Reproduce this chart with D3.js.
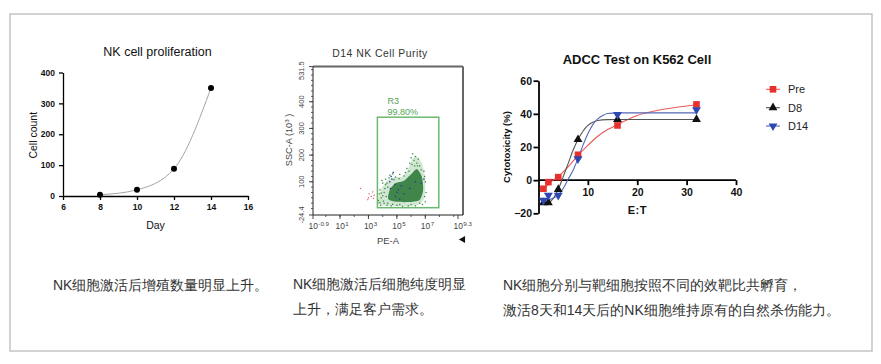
<!DOCTYPE html>
<html><head><meta charset="utf-8">
<script src="https://cdn.jsdelivr.net/npm/d3@7"></script>
<style>
html,body{margin:0;padding:0;background:#fff;}
svg{display:block;}
text{font-family:"Liberation Sans",Arial,sans-serif;}
</style></head><body>
<svg id="c" width="881" height="364"></svg>
<script>
// ---------- DATA ----------
// Chart 1: NK cell proliferation
const prolifDays = [8, 10, 12, 14];
const prolifCounts = [4, 20, 88, 350];
const prolifXTicks = [6, 8, 10, 12, 14, 16];
const prolifYTicks = [0, 100, 200, 300, 400];

// Chart 2: D14 NK Cell Purity (flow cytometry, x = log10 PE-A, y = SSC-A 10^3)
const flowXTicks = [-0.9, 1, 3, 5, 7, 9.3];
const flowXTickExp = ["-0.9", "1", "3", "5", "7", "9.3"];
const flowYTicks = [-24.4, 100, 200, 300, 400, 531.5];
const flowYTickLabels = ["-24.4", "100", "200", "300", "400", "531.5"];
const gateR3 = [3.63, 7.95, 3, 342]; // xmin, xmax, ymin, ymax
const gateName = "R3";
const gatePct = "99.80%";
const cloudHalo = [[3.7,18],[3.75,50],[4.0,82],[4.4,108],[4.9,118],[5.4,120],[5.8,150],[6.1,185],[6.4,195],[6.75,170],[6.95,130],[7.0,80],[6.9,35],[6.5,14],[5.8,8],[4.8,9],[4.1,11]];
const cloudCore = [[4.4,35],[4.5,70],[4.9,95],[5.5,104],[6.0,128],[6.4,148],[6.75,120],[6.85,70],[6.6,32],[5.8,24],[5.0,25]];
const sparseGreen = [[3.7,30],[3.75,55],[3.8,70],[3.9,40],[4.0,95],[4.1,20],[4.1,60],[4.2,110],[4.3,12],[4.35,80],[4.5,125],[4.6,10],[4.7,130],[4.9,118],[5.0,12],[5.2,128],[5.4,8],[5.5,122],[5.7,150],[5.8,10],[5.9,170],[6.0,190],[6.1,205],[6.2,180],[6.3,195],[6.4,170],[6.5,185],[6.6,160],[6.9,140],[7.0,100],[7.05,60],[7.0,25],[6.8,15],[6.3,10],[4.05,28],[3.95,105],[3.65,20],[3.85,12],[4.25,45],[4.3,95],[4.45,115],[4.15,75],[3.9,58],[4.8,108],[5.15,112],[5.6,135],[5.85,140],[6.05,165],[6.25,160],[6.45,160],[6.7,145],[6.95,120],[6.95,45],[6.6,20],[6.0,15],[5.2,15],[4.7,16],[4.35,20],[3.8,22],[4.0,48],[4.2,90]];
const sparseBlue = [[4.5,100],[4.6,120],[4.75,135],[4.55,75],[4.85,90],[5.1,70],[5.3,85],[5.5,55],[5.9,75],[6.3,100],[6.7,95],[6.9,110],[4.9,45],[5.2,35],[4.65,110],[5.0,60]];
const sparseRed = [[2.45,75],[3.05,55],[3.2,45],[3.0,40],[3.3,62],[3.4,50],[2.95,33],[3.35,38]];

// Chart 3: ADCC Test on K562 Cell
const etRatio = [1, 2, 4, 8, 16, 32];
const seriesNames = ["Pre", "D8", "D14"];
const adccPre = [-5.2, -1.2, 1.8, 15.3, 33, 45.7];
const adccD8 = [-13.6, -13.6, -5.6, 24.5, 36.6, 36.6];
const adccD14 = [-12.2, -9.2, -9.2, 12.9, 39.6, 42.5];
const fitPreX = [1,2,3,4,5,6,7,8,10,12,14,16,18,20,24,28,32];
const fitPreY = [-5.5,-2.5,0,2,5,8,11.5,15,21,26.5,30.5,33.5,36.5,39,42,44,45.5];
const fitD8X = [1,2,3,4,5,6,7,8,9,10,11,12,14,16,24,32];
const fitD8Y = [-14,-13.6,-11,-5.5,2,10,18,24.5,29.5,33,35,36,36.5,36.6,36.6,36.6];
const fitD14X = [1,2,3,4,5,6,7,8,9,10,11,12,13,14,16,24,32];
const fitD14Y = [-12.2,-11.8,-10.8,-9,-5,0.5,6,13,21,28,33.5,37,39,40.2,40.6,40.6,40.6];
const adccXTicks = [10, 20, 30, 40];
const adccYTicks = [-20, 0, 20, 40, 60];

// Captions
const caption1 = ["NK细胞激活后增殖数量明显上升。"];
const caption2 = ["NK细胞激活后细胞纯度明显", "上升，满足客户需求。"];
const caption3 = ["NK细胞分别与靶细胞按照不同的效靶比共孵育，", "激活8天和14天后的NK细胞维持原有的自然杀伤能力。"];

// ---------- DRAW ----------
const svg = d3.select("#c");
svg.append("rect").attr("width", 881).attr("height", 364).attr("fill", "#fff");
svg.append("rect").attr("x", 10).attr("y", 14).attr("width", 862).attr("height", 337)
  .attr("fill", "none").attr("stroke", "#c4c4c4").attr("stroke-width", 1.5);

function styleAxis(g, sw, fs, fw, col) {
  g.select(".domain").attr("stroke", col || "#000").attr("stroke-width", sw);
  g.selectAll(".tick line").attr("stroke", col || "#000").attr("stroke-width", sw);
  g.selectAll(".tick text").attr("font-size", fs).attr("font-weight", fw)
    .attr("fill", "#111").attr("font-family", "Liberation Sans, Arial, sans-serif");
}

// ===== Chart 1 =====
{
  const g = svg.append("g");
  const x = d3.scaleLinear().domain([6, 16]).range([63, 248]);
  const y = d3.scaleLinear().domain([0, 400]).range([196, 72.5]);
  const ax = g.append("g").attr("transform", `translate(0,${y(0)})`)
    .call(d3.axisBottom(x).tickValues(prolifXTicks).tickSize(4).tickPadding(4).tickSizeOuter(0));
  styleAxis(ax, 1.3, 8.5, "bold");
  const ay = g.append("g").attr("transform", `translate(${x(6)},0)`)
    .call(d3.axisLeft(y).tickValues(prolifYTicks).tickSize(4).tickPadding(4).tickSizeOuter(0));
  styleAxis(ay, 1.3, 8.5, "bold");
  const pts = prolifDays.map((d, i) => [d, prolifCounts[i]]);
  g.append("path").datum(pts).attr("fill", "none").attr("stroke", "#9a9a9a").attr("stroke-width", 0.9)
    .attr("d", d3.line().x(d => x(d[0])).y(d => y(d[1])).curve(d3.curveMonotoneX));
  g.selectAll("circle").data(pts).join("circle").attr("cx", d => x(d[0])).attr("cy", d => y(d[1]))
    .attr("r", 3).attr("fill", "#000");
  g.append("text").attr("x", (x(6) + x(16)) / 2 + 2).attr("y", 55.5).attr("text-anchor", "middle")
    .attr("font-size", 12.5).attr("fill", "#111").text("NK cell proliferation");
  g.append("text").attr("x", (x(6) + x(16)) / 2).attr("y", 229).attr("text-anchor", "middle")
    .attr("font-size", 10.5).attr("fill", "#111").text("Day");
  g.append("text").attr("transform", `translate(37,${(y(0) + y(400)) / 2 + 1}) rotate(-90)`)
    .attr("text-anchor", "middle").attr("font-size", 10.5).attr("fill", "#111").text("Cell count");
}

// ===== Chart 2 =====
{
  const g = svg.append("g");
  const x = d3.scaleLinear().domain([-0.9, 9.3]).range([313, 458]);
  const y = d3.scaleLinear().domain([-24.4, 531.5]).range([215, 66.6]);
  const right = 463;
  const line = d3.line().x(d => x(d[0])).y(d => y(d[1])).curve(d3.curveCardinalClosed.tension(0.3));
  // cloud
  g.append("path").datum(cloudHalo).attr("d", line).attr("fill", "#6aae6c").attr("opacity", 0.3);
  g.selectAll(".sg").data(sparseGreen).join("rect").attr("class", "sg")
    .attr("x", d => x(d[0]) - 0.6).attr("y", d => y(d[1]) - 0.6).attr("width", 1.3).attr("height", 1.3).attr("fill", "#3d8c45");
  g.append("path").datum(cloudCore).attr("d", line).attr("fill", "#307b3b").attr("opacity", 0.9);
  g.selectAll(".sb").data(sparseBlue).join("rect").attr("class", "sb")
    .attr("x", d => x(d[0]) - 0.7).attr("y", d => y(d[1]) - 0.7).attr("width", 1.4).attr("height", 1.4).attr("fill", "#2b3f9a");
  g.selectAll(".sr").data(sparseRed).join("rect").attr("class", "sr")
    .attr("x", d => x(d[0]) - 0.6).attr("y", d => y(d[1]) - 0.6).attr("width", 1.2).attr("height", 1.2).attr("fill", "#e8556a");
  // gate
  g.append("rect").attr("x", x(gateR3[0])).attr("y", y(gateR3[3]))
    .attr("width", x(gateR3[1]) - x(gateR3[0])).attr("height", y(gateR3[2]) - y(gateR3[3]))
    .attr("fill", "none").attr("stroke", "#6cb96e").attr("stroke-width", 1.5);
  g.append("text").attr("x", x(gateR3[0]) + 10).attr("y", 104).attr("font-size", 9).attr("fill", "#55a457").text(gateName);
  g.append("text").attr("x", x(gateR3[0]) + 10).attr("y", 115).attr("font-size", 9).attr("fill", "#55a457").text(gatePct);
  // frame
  g.append("line").attr("x1", x(-0.9)).attr("x2", right).attr("y1", y(531.5)).attr("y2", y(531.5)).attr("stroke", "#666").attr("stroke-width", 2);
  g.append("line").attr("x1", right).attr("x2", right).attr("y1", y(531.5)).attr("y2", y(-24.4)).attr("stroke", "#666").attr("stroke-width", 2);
  g.append("line").attr("x1", x(-0.9)).attr("x2", right).attr("y1", y(-24.4)).attr("y2", y(-24.4)).attr("stroke", "#222").attr("stroke-width", 1);
  g.append("line").attr("x1", x(-0.9)).attr("x2", x(-0.9)).attr("y1", y(531.5)).attr("y2", y(-24.4)).attr("stroke", "#222").attr("stroke-width", 1);
  // y ticks
  const yMinor = d3.range(0, 531, 20);
  g.selectAll(".ymi").data(yMinor).join("line").attr("class", "ymi")
    .attr("x1", x(-0.9) - 2).attr("x2", x(-0.9)).attr("y1", d => y(d)).attr("y2", d => y(d)).attr("stroke", "#333").attr("stroke-width", 0.8);
  g.selectAll(".yma").data(flowYTicks).join("line").attr("class", "yma")
    .attr("x1", x(-0.9) - 4).attr("x2", x(-0.9)).attr("y1", d => y(d)).attr("y2", d => y(d)).attr("stroke", "#333").attr("stroke-width", 0.9);
  g.selectAll(".yl").data(flowYTicks).join("text").attr("class", "yl")
    .attr("transform", (d, i) => `translate(303.5,${y(d) + (i === flowYTicks.length - 1 ? 4 : 0)}) rotate(-90)`)
    .attr("text-anchor", "middle").attr("font-size", 7.5).attr("fill", "#444").text((d, i) => flowYTickLabels[i]);
  // x ticks
  const xMinor = d3.range(0, 10, 1);
  g.selectAll(".xmi").data(xMinor).join("line").attr("class", "xmi")
    .attr("x1", d => x(d)).attr("x2", d => x(d)).attr("y1", y(-24.4)).attr("y2", y(-24.4) + 2).attr("stroke", "#333").attr("stroke-width", 0.8);
  g.selectAll(".xma").data(flowXTicks).join("line").attr("class", "xma")
    .attr("x1", d => x(d)).attr("x2", d => x(d)).attr("y1", y(-24.4)).attr("y2", y(-24.4) + 4).attr("stroke", "#333").attr("stroke-width", 0.9);
  const xl = g.selectAll(".xl").data(flowXTicks).join("text").attr("class", "xl")
    .attr("x", d => x(d) - 4.5).attr("y", 229).attr("font-size", 8.4).attr("fill", "#444");
  xl.append("tspan").text("10");
  xl.append("tspan").attr("dy", -3.5).attr("dx", 0.5).attr("font-size", 6.2).text((d, i) => flowXTickExp[i]);
  g.append("text").attr("x", 388).attr("y", 243.5).attr("text-anchor", "middle").attr("font-size", 9.4).attr("fill", "#444").text("PE-A");
  const yl = g.append("text").attr("transform", `translate(291.5,140) rotate(-90)`).attr("text-anchor", "middle")
    .attr("font-size", 9.2).attr("fill", "#444");
  yl.append("tspan").text("SSC-A (10");
  yl.append("tspan").attr("dy", -3).attr("font-size", 6.2).text("3");
  yl.append("tspan").attr("dy", 3).text(" )");
  g.append("path").attr("d", d3.symbol().type(d3.symbolTriangle).size(22))
    .attr("transform", `translate(${right},239.5) rotate(-90)`).attr("fill", "#111");
  g.append("text").attr("x", 380).attr("y", 56.5).attr("text-anchor", "middle").attr("font-size", 10.4)
    .attr("letter-spacing", 0.5).attr("fill", "#333").text("D14 NK Cell Purity");
}

// ===== Chart 3 =====
{
  const g = svg.append("g");
  const x = d3.scaleLinear().domain([0, 40]).range([538.5, 736]);
  const y = d3.scaleLinear().domain([-20, 60]).range([213.3, 80.7]);
  const colors = ["#e8312f", "#111111", "#2f47b0"];
  const lineColors = ["#ea5a5a", "#555555", "#5468b8"];
  const symbols = [d3.symbolSquare, d3.symbolTriangle, d3.symbolTriangle];
  const sizes = [44, 34, 34];
  const rot = [0, 0, 180];
  const ax = g.append("g").attr("transform", `translate(0,${y(0)})`)
    .call(d3.axisBottom(x).tickValues(adccXTicks).tickSize(5).tickPadding(3.5).tickSizeOuter(0));
  styleAxis(ax, 1.8, 10.5, "bold");
  ax.select(".domain").attr("d", `M${x(0)},0H${x(40)}`);
  const ay = g.append("g").attr("transform", `translate(${x(0)},0)`)
    .call(d3.axisLeft(y).tickValues(adccYTicks).tickSize(5).tickPadding(1.5).tickSizeOuter(0));
  styleAxis(ay, 1.8, 10.5, "bold");
  const fits = [[fitPreX, fitPreY], [fitD8X, fitD8Y], [fitD14X, fitD14Y]];
  const obs = [adccPre, adccD8, adccD14];
  const ln = d3.line().x(d => x(d[0])).y(d => y(d[1])).curve(d3.curveMonotoneX);
  fits.forEach((f, s) => {
    g.append("path").datum(f[0].map((v, i) => [v, f[1][i]])).attr("fill", "none")
      .attr("stroke", lineColors[s]).attr("stroke-width", 1.1).attr("d", ln);
  });
  obs.forEach((vals, s) => {
    g.selectAll(".m" + s).data(etRatio.map((v, i) => [v, vals[i]])).join("path").attr("class", "m" + s)
      .attr("d", d3.symbol().type(symbols[s]).size(sizes[s]))
      .attr("transform", d => `translate(${x(d[0])},${y(d[1])}) rotate(${rot[s]})`).attr("fill", colors[s]);
  });
  // legend
  const ly = [89.3, 107.7, 126];
  seriesNames.forEach((n, s) => {
    g.append("line").attr("x1", 766).attr("x2", 780).attr("y1", ly[s]).attr("y2", ly[s]).attr("stroke", lineColors[s]).attr("stroke-width", 1.1);
    g.append("path").attr("d", d3.symbol().type(symbols[s]).size(sizes[s]))
      .attr("transform", `translate(773,${ly[s]}) rotate(${rot[s]})`).attr("fill", colors[s]);
    g.append("text").attr("x", 788).attr("y", ly[s] + 4).attr("font-size", 11).attr("fill", "#222").text(n);
  });
  g.append("text").attr("x", 637).attr("y", 63.5).attr("text-anchor", "middle").attr("font-size", 13)
    .attr("font-weight", "bold").attr("fill", "#111").text("ADCC Test on K562 Cell");
  g.append("text").attr("x", (x(0) + x(40)) / 2).attr("y", 214).attr("text-anchor", "middle").attr("font-size", 11)
    .attr("font-weight", "bold").attr("letter-spacing", 0.5).attr("fill", "#111").text("E:T");
  g.append("text").attr("transform", `translate(509.5,${(y(-20) + y(60)) / 2}) rotate(-90)`).attr("text-anchor", "middle")
    .attr("font-size", 9.5).attr("font-weight", "bold").attr("fill", "#111").text("Cytotoxicity (%)");
}

// ===== Captions =====
function caption(lines, x0, y0) {
  lines.forEach((t, i) => {
    svg.append("text").attr("x", x0).attr("y", y0 + i * 25).attr("font-size", 14)
      .attr("font-family", "Noto Sans CJK SC, sans-serif").attr("fill", "#333").text(t);
  });
}
caption(caption1, 53, 290);
caption(caption2, 293, 289);
caption(caption3, 503, 290);
</script>
</body></html>
